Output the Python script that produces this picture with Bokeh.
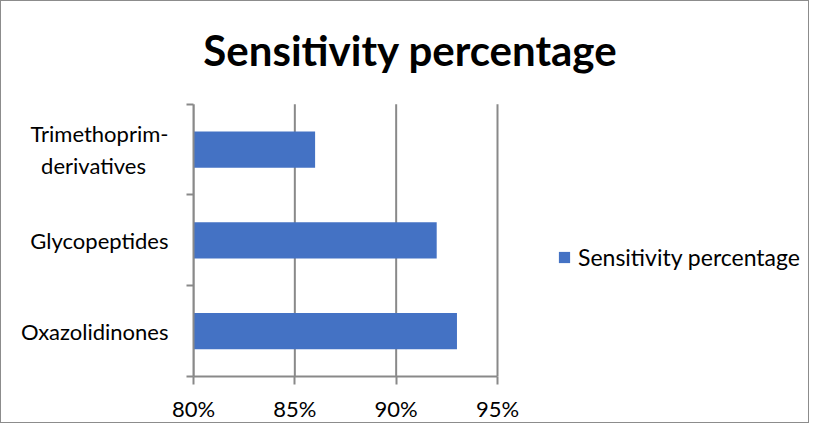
from bokeh.plotting import figure
from bokeh.models import (FixedTicker, NumeralTickFormatter, Range1d, Label,
                          Legend, LegendItem, ColumnDataSource)
from bokeh.embed import file_html
from bokeh.resources import INLINE

categories = ["Oxazolidinones", "Glycopeptides", "Trimethoprim-\nderivatives"]
values = [0.93, 0.92, 0.86]
x_ticks = [0.80, 0.85, 0.90, 0.95]
series_name = "Sensitivity percentage"
title_text = "Sensitivity percentage"

FONT = "Lato"
GRAY = "#898989"
BLUE = "#4472C4"

# layout (pixels)
W, H = 809, 423
LEFT, BOTTOM = 192, 47
PLOT_W, PLOT_H = 304, 273          # visible axes area
FRAME_W, FRAME_H = W - LEFT, H - BOTTOM

x0, x1 = x_ticks[0], x_ticks[-1]
n = len(categories)
x_end = x0 + (x1 - x0) * FRAME_W / PLOT_W
y_end = n * FRAME_H / PLOT_H

positions = [i + 0.5 for i in range(n)]
src = ColumnDataSource(dict(y=positions, right=values, cat=categories))

PAD = "\u00a0" * 4


def centred(label):
    """Visually centre the shorter lines of a wrapped label (axis labels are right-aligned)."""
    lines = label.split("\n")
    if len(lines) == 1:
        return label
    longest = max(len(s) for s in lines)
    return "\n".join(s + (PAD if len(s) < longest else "") for s in lines)


p = figure(width=W, height=H, output_backend="svg", toolbar_location=None,
           x_range=Range1d(x0, x_end), y_range=Range1d(0, y_end),
           min_border_left=LEFT, min_border_right=0, min_border_top=0,
           min_border_bottom=BOTTOM)
p.styles = {"border": "1px solid #8c8c8c"}
p.outline_line_color = None
p.xgrid.grid_line_color = None
p.ygrid.grid_line_color = None

# vertical gridlines limited to the axes area
p.segment(x0=x_ticks, y0=[0] * len(x_ticks), x1=x_ticks, y1=[n] * len(x_ticks),
          line_color=GRAY, line_width=2)

r = p.hbar(y="y", right="right", left=x0, height=0.4, source=src,
           fill_color=BLUE, line_color=None)

# x axis
xa = p.xaxis[0]
xa.bounds = (x0, x1)
xa.ticker = FixedTicker(ticks=x_ticks)
xa.formatter = NumeralTickFormatter(format="0%")
xa.axis_line_color = GRAY
xa.axis_line_width = 2
xa.major_tick_line_color = GRAY
xa.major_tick_line_width = 2
xa.major_tick_out = 8
xa.major_tick_in = 0
xa.minor_tick_line_color = None
xa.major_label_text_font = FONT
xa.major_label_text_font_size = "22px"
xa.major_label_text_color = "black"
xa.major_label_standoff = 10

# y axis
ya = p.yaxis[0]
ya.bounds = (0, n)
ya.ticker = FixedTicker(ticks=positions, minor_ticks=list(range(n + 1)))
ya.major_label_overrides = {pos: centred(c) for pos, c in zip(positions, categories)}
ya.axis_line_color = GRAY
ya.axis_line_width = 2
ya.major_tick_line_color = None
ya.major_tick_out = 0
ya.major_tick_in = 0
ya.minor_tick_line_color = GRAY
ya.minor_tick_line_width = 2
ya.minor_tick_out = 7
ya.minor_tick_in = 0
ya.major_label_text_font = FONT
ya.major_label_text_font_size = "22px"
ya.major_label_text_color = "black"
ya.major_label_standoff = 18

title = Label(x=217, y=327, x_units="screen", y_units="screen", text=title_text,
              text_font=FONT, text_font_style="bold", text_font_size="42px",
              text_align="center", text_baseline="middle", text_color="black")
p.add_layout(title)

legend = Legend(items=[LegendItem(label=series_name, renderers=[r])],
                location=(364, 105), orientation="vertical",
                border_line_color=None, background_fill_alpha=0,
                padding=0, margin=0, glyph_width=14, glyph_height=14,
                label_standoff=7, label_text_font=FONT,
                label_text_font_size="23px", label_text_color="black",
                label_height=20)
p.add_layout(legend)

open("out.html", "w").write(file_html(p, INLINE))
